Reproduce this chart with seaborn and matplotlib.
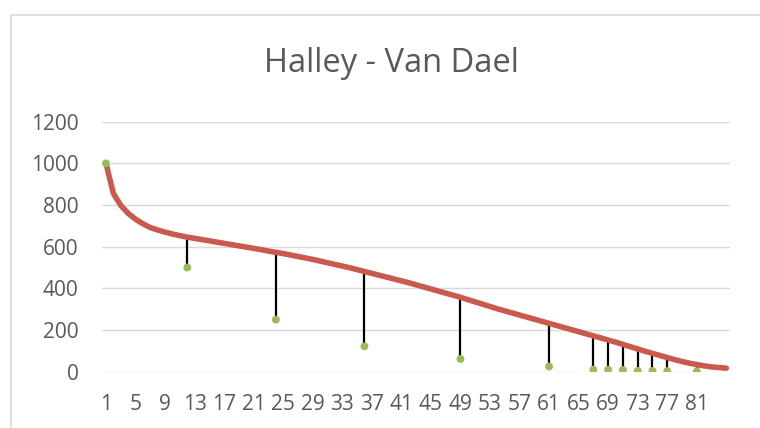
import matplotlib
matplotlib.use("Agg")
import matplotlib.pyplot as plt
from matplotlib.lines import Line2D
import numpy as np
import pandas as pd
import seaborn as sns

# Halley life table (survivors per 1000), one value per category 1..85
halley = [
    1000, 855, 798, 760, 732, 710, 692, 680, 670, 661,
    653, 646, 640, 634, 628, 622, 616, 610, 604, 598,
    592, 586, 579, 573, 567, 560, 553, 546, 539, 531,
    523, 515, 507, 499, 490, 481, 472, 463, 454, 445,
    436, 427, 417, 407, 397, 387, 377, 367, 357, 346,
    335, 324, 313, 302, 292, 282, 272, 262, 252, 242,
    232, 222, 212, 202, 192, 182, 172, 162, 152, 142,
    131, 120, 109, 98, 88, 78, 68, 58, 49, 41,
    34, 28, 23, 20, 17,
]
categories = list(range(1, len(halley) + 1))

# Van Dael points (category, value)
vandael_cat = [1, 12, 24, 36, 49, 61, 67, 69, 71, 73, 75, 77, 81]
vandael_val = [1000, 500, 250, 122, 61, 25, 10, 10, 8, 4, 4, 3, 2]

tick_labels = [str(c) for c in range(1, 82, 4)]

RED = "#c95a4d"
GREEN = "#9bbb59"
TEXT = "#595959"
GRID = "#d9d9d9"

sns.set_style("white")
plt.rcParams["font.family"] = ["Open Sans", "DejaVu Sans"]

fig = plt.figure(figsize=(7.6, 4.28), dpi=100)
ax = fig.add_axes([102.3 / 760, 56.3 / 428, 627.7 / 760, 250 / 428])

df_h = pd.DataFrame({"cat": categories, "val": halley})
df_v = pd.DataFrame({"cat": vandael_cat, "val": vandael_val})

# drop lines from the Van Dael points up to the Halley curve
tops = [halley[c - 1] for c in vandael_cat]
ax.vlines(vandael_cat, vandael_val, tops, colors="black", linewidth=1.6, zorder=2)

sns.lineplot(data=df_h, x="cat", y="val", ax=ax, color=RED, linewidth=4.0,
             solid_capstyle="round", solid_joinstyle="round", zorder=3)
sns.scatterplot(data=df_v, x="cat", y="val", ax=ax, color=GREEN, s=32,
                edgecolor="none", zorder=4)

ax.set_xlim(0.5, len(halley) + 0.5)
ax.set_ylim(0, 1200)
ax.set_yticks(range(0, 1201, 200))
ax.set_xticks(range(1, 82, 4))
ax.set_xticklabels(tick_labels)
ax.set_xlabel("")
ax.set_ylabel("")
ax.yaxis.grid(True, color=GRID, linewidth=1.0)
ax.set_axisbelow(True)
for s in ax.spines.values():
    s.set_visible(False)
ax.tick_params(axis="both", length=0, labelsize=15, labelcolor=TEXT)
ax.tick_params(axis="y", pad=17)
ax.tick_params(axis="x", pad=16)

fig.text(391 / 760, 1 - 63 / 428, "Halley - Van Dael", ha="center", va="center",
         fontsize=23.5, color=TEXT)

# chart area border (partly cropped in the reference)
fig.add_artist(Line2D([11 / 760, 11 / 760], [0, 1 - 15 / 428], color=GRID, linewidth=1.2))
fig.add_artist(Line2D([11 / 760, 1], [1 - 15 / 428, 1 - 15 / 428], color=GRID, linewidth=1.2))

fig.savefig("out.png", dpi=100, facecolor="white")
